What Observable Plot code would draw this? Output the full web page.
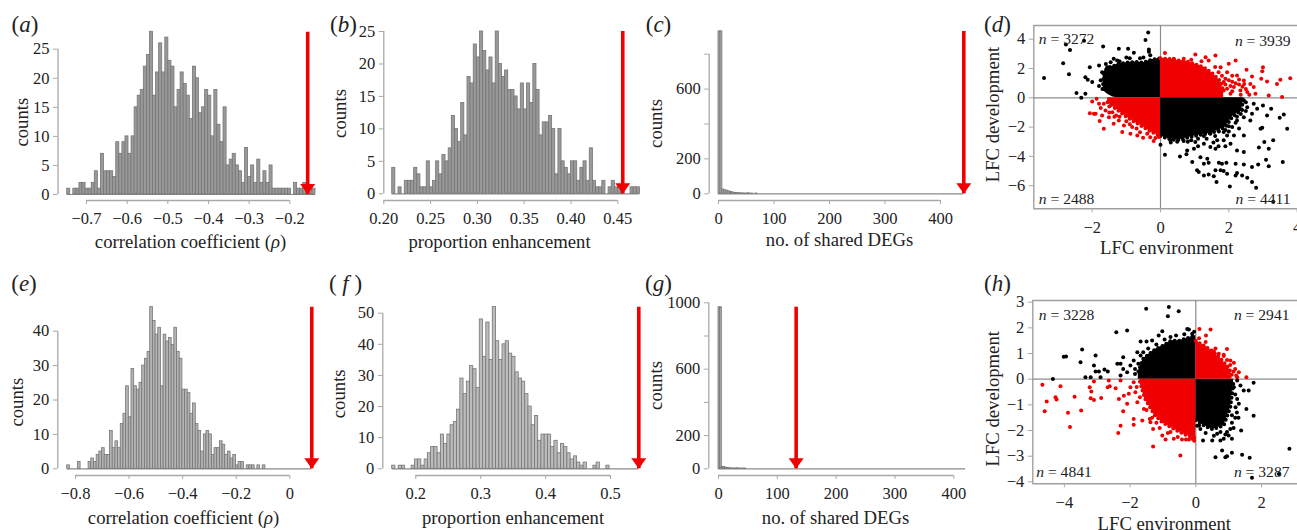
<!DOCTYPE html>
<html><head><meta charset="utf-8">
<script src="https://cdn.jsdelivr.net/npm/d3@7"></script>
<script src="https://cdn.jsdelivr.net/npm/@observablehq/plot@0.6"></script>
<style>
html,body{margin:0;padding:0;background:#fff;overflow:hidden}
#fig{position:relative;width:1297px;height:530px;overflow:hidden}
#fig>div{position:absolute}
</style></head><body><div id="fig"></div>
<script>
// ---------- histogram data (bin counts) ----------
const aCounts=[1,0,1,1,2,2,1,1,2,4,1,7,4,4,4,3,9,7,9,10,7,10,15,17,18,22,24,28,17,21,26,21,27,23,22,15,18,21,19,17,13,22,20,14,15,18,17,10,18,12,9,15,5,6,7,5,4,2,8,3,5,2,6,2,4,2,5,1,1,1,1,1,1,0,2,1,1,2,1,1,1];
const aStart=-0.7475, aBin=0.00754, aArrow=-0.156;
const aXTicks=[-0.7,-0.6,-0.5,-0.4,-0.3,-0.2], aYTicks=[0,5,10,15,20,25];

const bCounts=[4,0,1,0,2,2,2,4,3,1,1,5,1,2,5,3,6,5,7,12,10,8,14,9,18,17,23,21,25,22,19,21,17,25,20,18,19,16,16,15,13,17,13,17,14,20,16,9,11,11,12,10,3,10,5,4,3,5,5,2,4,5,2,7,2,1,1,2,0,1,2,1,1,1,0,0,1,1,1];
const bStart=0.209, bBin=0.00335, bArrow=0.4553;
const bXTicks=[0.2,0.25,0.3,0.35,0.4,0.45], bYTicks=[0,5,10,15,20,25];

const cCounts=[931,931,25,20,18,14,10,8,5,5,3,3,2,2,1,3,1,1,0,2];
const cStart=0, cBin=3.5, cArrow=442, cEnd=442;
const cXTicks=[0,100,200,300,400], cYTicks=[0,200,400,600,800], cYLabels=[0,200,600];

const eCounts=[1,0,0,0,2,0,0,0,2,3,2,4,5,6,4,4,11,6,8,6,13,16,24,15,29,24,23,25,30,32,34,47,43,39,41,24,39,37,38,36,41,34,32,23,23,22,16,19,13,11,5,10,11,10,4,6,6,8,7,4,5,3,4,1,2,2,0,1,1,1,0,1,0,1];
const eStart=-0.831, eBin=0.01, eArrow=0.082;
const eXTicks=[-0.8,-0.6,-0.4,-0.2,0], eYTicks=[0,10,20,30,40];

const fCounts=[1,0,1,1,0,0,1,3,3,1,3,5,7,7,5,11,8,11,14,15,19,29,24,28,33,32,26,48,36,47,35,52,41,35,40,41,37,36,31,29,28,24,20,14,17,9,11,11,11,7,9,5,8,7,5,3,4,2,1,2,0,0,1,2,0,0,1];
const fStart=0.1636, fBin=0.005, fArrow=0.5436;
const fXTicks=[0.2,0.3,0.4,0.5], fYTicks=[0,10,20,30,40,50];

const gCounts=[973,973,12,10,8,5,4,3,2,2,2,3,2,1,1,2,1];
const gStart=0, gBin=2.8, gArrow=132, gEnd=420;
const gXTicks=[0,100,200,300,400], gYTicks=[0,200,400,600,800,1000], gYLabels=[0,200,600,1000];

// ---------- scatter (d): dense-cloud envelopes and individually read points ----------
const dUL={x:[-1.68,-1.55,-1.4,-1.25,-1,-0.75,-0.5,-0.25,0],top:[1.7,2.05,2.15,2.3,2.4,2.45,2.4,2.6,2.7],bot:[0.5,0.25,0.05,0,0,0,0,0,0]};
const dUR={x:[0,0.25,0.5,0.75,1,1.25,1.5,1.75,1.85],top:[2.7,2.65,2.55,2.5,2.3,2.1,1.7,1.15,0.4],bot:[0,0,0,0,0,0,0,0,0]};
const dLR={x:[0,0.25,0.5,0.75,1,1.25,1.5,1.9,2.1,2.35,2.45],top:[0,0,0,0,0,0,0,0,0,0,0],bot:[-2.6,-2.8,-2.9,-2.75,-2.6,-2.5,-2.4,-2,-1.3,-0.9,0]};
const dLL={x:[-1.55,-1.25,-1,-0.75,-0.5,-0.25,0],top:[0,0,0,0,0,0,0],bot:[-0.3,-0.85,-1.3,-1.65,-2,-2.35,-2.6]};
const dBlack=[[-.36,4.45],[-.44,3.95],[-.34,3.3],[-.34,3.15],[-1.68,3.5],[-2.77,3.64],[-2.65,3.27],[-2.24,3.9],[-2.85,2.36],[-3.41,1.36],[-2.68,1.6],[-2.2,1.4],[-2.13,1.23],[-2.07,2.09],[-2,1.07],[-2.46,.32],[-2.2,.27],[-2.32,0],[-1.22,3.34],[-.95,3.34],[-.78,3.07],[-1.37,2.66],[-1.8,2.2],[-1.71,1.75],[-1.66,1.3],[-1.68,.95],[-1.56,2.09],[-1.46,2.43],[-1.27,2.55],[-1,2.75],[-.6,2.7],[-.3,2.9],[-1.75,1.2],[-1.8,.8],[-1.6,2.3],[-1.2,2.5],[-.9,2.7],[-.5,2.75],[-1.7,.6],
[0,-3.2],[.13,-3.89],[.57,-4],[.76,-3.86],[.93,-4.39],[.98,-3.48],[1.07,-4.95],[1.12,-5.07],[1.27,-5.3],[1.41,-5.23],[1.64,-5.75],[1.56,-5.36],[1.71,-4.43],[1.8,-4.5],[1.93,-4.43],[1.85,-5],[1.95,-5.18],[2.03,-6.05],[2.2,-4.5],[2.2,-5.3],[2.24,-5.14],[2.39,-5.3],[2.54,-5.45],[2.68,-5.75],[2.8,-6.14],[3.3,-7.1],[2.44,-4.55],[2.68,-4.73],[2.86,-4.55],[3.17,-4.68],[3.09,-4.23],[3.58,-4.39],[3.3,-2.9],[3.17,-3.48],[2.88,-3.4],[3.04,-3.02],[2.93,-2.11],[2.98,-2.05],[3.71,-2.11],[3.49,-1.36],[3.61,-1.14],[3.24,-.75],[3,-.52],[2.83,-.75],[2.68,-1.09],[2.44,-2.57],[2.44,-3.7],[2.15,-2.57],[1.95,-2.57],[1.85,-2.9],[2.05,-3.14],[2.24,-3.59],[1.61,-3.48],[1.46,-3.36],[1.27,-3.14],[1.17,-4.05],[1.37,-4.16],[1.27,-4.5],[1.41,-4.43],[1.61,-4.95],[1.76,-4.95],[.78,-3.59],[1.02,-3.02],[1.46,-2.45],[1.66,-2.9],[1.85,-2.34],[2.24,-1.55],[2.44,-1.32],[2.54,-.64],[2.63,-1.55],[2.73,-.41],[3.12,-1.2],[.29,-2.9],[.68,-2.95],[.49,-3],[.9,-2.9],[1.27,-2.6],[1.71,-2.3],[2,-1.95],[2.24,-1.3],[2.39,-.84],[2.44,-.18],[1.1,-3.3],[1.55,-3.05],[2,-2.3],[2.3,-2.1],[2.5,-.3],[2.5,-.9],[2.35,-1.1],[2.2,-1.7],[2.1,-2],[1.9,-2.2],[1.6,-2.6],[1.35,-2.8],[1.1,-2.8],[.8,-3],[.3,-3.05],[1.9,-3.3],[1.7,-3.3]];
const dRed=[[.13,3.05],[1.61,2.89],[1.02,2.95],[1.32,2.77],[2.2,2.55],[2,2.32],[2.52,1.91],[3,2.09],[2.98,1.82],[2.68,1.45],[2.95,1.3],[3.12,1.11],[3.41,.95],[3.51,1.23],[3.8,1.34],[3.56,.05],[3.17,.16],[2.63,.95],[2.44,1.18],[2.24,1.52],[1.95,1.75],[1.85,1.07],[2.15,.73],[2.34,.5],[2.54,.39],[2.73,.73],[2.78,.27],[2.05,.27],[1.95,.61],[1.76,2.09],[1.41,2.55],[.68,2.66],[.39,2.66],[1.85,.5],[1.9,1.3],[2.1,1.1],[1.8,1.5],[1.9,.9],[2,1.2],[2.05,.8],[2.1,.45],[2.2,1],[2.3,.9],[2.35,.2],[2.4,.75],[2.5,.6],[2.6,.2],[2.1,1.5],[1.7,1.75],[1.6,2.1],[1.2,2.5],[.9,2.6],[2.45,.95],[2.3,1.25],
[-2,-.25],[-1.87,-.07],[-1.8,-.41],[-2.07,-1.05],[-1.95,-1.09],[-1.9,-1.09],[-1.71,-1.2],[-1.78,-1.59],[-1.66,-2.11],[-1.66,-.41],[-1.61,-.86],[-1.51,-1.32],[-1.41,-.98],[-1.22,-1.55],[-1.37,-1.77],[-1.07,-1.89],[-.83,-2],[-1.12,-2.34],[-.68,-2.57],[-.51,-2.73],[-.2,-2.95],[-.88,-2.45],[-.39,-2.45],[-.05,-2.68],[-.1,-2.34],[-1.5,-.6],[-1.3,-1.2],[-1.75,-.7],[-1.5,-1],[-1.35,-1.3],[-1.2,-1.3],[-1,-1.6],[-.9,-1.8],[-.7,-2.1],[-.6,-2.35],[-.3,-2.7],[-.15,-2.75]];
const dN=["*n* = 3272","*n* = 3939","*n* = 2488","*n* = 4411"];
const dXTicks=[-2,0,2,4], dYTicks=[-6,-4,-2,0,2,4];

// ---------- scatter (h) ----------
const hUL={x:[-1.75,-1.6,-1.4,-1.25,-1,-.75,-.5,-.25,0],top:[.3,.8,1,1.15,1.3,1.5,1.5,1.6,1.7],bot:[0,0,0,0,0,0,0,0,0]};
const hUR={x:[0,.25,.5,.75,1,1.1],top:[1.5,1.3,1.1,.8,.45,.15],bot:[0,0,0,0,0,0]};
const hLR={x:[0,.25,.5,.85,1.05,1.15],top:[0,0,0,0,0,0],bot:[-1.6,-1.8,-1.95,-1.8,-1.1,-.1]};
const hLL={x:[-1.7,-1.55,-1.25,-1,-.65,-.35,0],top:[0,0,0,0,0,0,0],bot:[-.1,-.75,-1.4,-1.7,-1.95,-2.15,-2.3]};
const hBlack=[[-1.51,2.74],[-.82,2.81],[-.85,2.45],[-.52,2.65],[-2.09,1.9],[-2.42,1.83],[-3.46,1.16],[-3.05,.92],[-4.02,.87],[-3.95,.88],[-3.51,.66],[-3.1,.53],[-4.35,.01],[-3.36,.08],[-3.2,.08],[-3.05,.3],[-2.95,.3],[-2.9,.08],[-2.78,.38],[-2.68,.3],[-2.39,.6],[-2.29,.6],[-2.21,.86],[-2.21,.4],[-2.29,.14],[-2.09,.27],[-1.99,.53],[-1.89,.73],[-1.68,1.47],[-1.5,1.47],[-1.33,1.51],[-1.02,1.87],[-1.13,1.7],[-.77,1.64],[-.26,1.96],[-.21,1.94],[-.11,1.77],[-1.78,1.05],[-1.68,.92],[-1.85,.4],[-1.85,.2],[-1.75,.6],[-1.6,1.05],[-1.45,1.2],[-1.2,1.35],[-.95,1.55],[-.6,1.7],[-.35,1.75],[-.05,1.85],
[2.85,-2.71],[.6,-3.04],[.9,-3.04],[.95,-3],[.8,-2.78],[1.1,-2.87],[1.41,-2.94],[1.64,-3.06],[1.71,-3.84],[2.53,-3.69],[1.76,-.14],[1.76,-1.42],[1.54,-1.16],[1.38,-2],[1.1,-2.32],[.85,-2.32],[.75,-2.39],[.5,-2.39],[.22,-2.39],[.04,-1.81],[.14,-1.94],[1.26,-.77],[1.31,-.96],[1.21,-1.09],[1.36,-.25],[1.46,-.44],[1.61,-.44],[1.16,-.31],[1.26,-.05],[1.05,-1.94],[.95,-2.06],[1,-2.19],[.75,-2.06],[.65,-2.13],[1.2,-1.5],[1.1,-1.7],[1.2,-.6],[1.25,-1.3],[1.1,-1.4],[1.15,-1.9],[.9,-2.15],[.55,-2.2],[.3,-2.1],[.1,-1.8],[1.3,-1.5]];
const hRed=[[.11,1.96],[.45,1.94],[.31,1.7],[.95,1.18],[.85,.9],[1.16,.64],[1.31,.27],[1.26,.08],[1.54,.08],[1.05,.73],[.24,1.25],[.55,1.08],[.7,.99],[1.23,.14],[.1,1.6],[.3,1.45],[.6,1.2],[.85,.95],[1.05,.55],[1.15,.3],[.95,.75],[1.2,.4],
[-4.67,-.22],[-4.6,-1.25],[-4.54,-.87],[-4.24,-.79],[-4.27,-.7],[-4.12,-.27],[-3.89,-1.31],[-3.83,-1.86],[-3.69,-.68],[-3.49,-1.22],[-3.23,-.31],[-3.18,-.48],[-3.2,-.74],[-3.1,-.81],[-2.88,-.73],[-3.1,-.09],[-2.65,-.05],[-2.68,-.31],[-2.62,-.27],[-2.44,-.35],[-2.29,-.05],[-2.34,-.77],[-2.19,-.64],[-2.04,-.57],[-2.09,-.96],[-2.21,-1.25],[-2.29,-1.81],[-2.36,-2.1],[-1.89,-1.55],[-1.89,-1.77],[-1.63,-1.61],[-1.58,-1.16],[-1.89,-.12],[-1.99,-.31],[-1.84,-.51],[-1.78,-.9],[-1.3,-1.94],[-1.33,-1.5],[-1.02,-2.19],[-.92,-2.35],[-1.3,-2.62],[-.47,-2.97],[-.67,-2.32],[-.42,-2.35],[-.21,-2.35],[-.11,-2.32],[-1.38,-1.68],[-.77,-2.06],[-1.8,-.3],[-1.7,-.7],[-1.5,-1.2],[-1.4,-1.55],[-1.2,-1.7],[-1.1,-1.9],[-.85,-2.1],[-.55,-2.25],[-.3,-2.35],[-.05,-2.4]];
const hN=["*n* = 3228","*n* = 2941","*n* = 4841","*n* = 3287"];
const hXTicks=[-4,-2,0,2], hYTicks=[-4,-3,-2,-1,0,1,2,3];

// ---------- shared styling / helpers ----------
const SERIF="Liberation Serif", INK="#222", AXIS="#a8a8a8", RED="#f00000";
const minus=v=>String(v).replace("-","\u2212");
const lerp=(c,p)=>c[0]+(p-c[1])*(c[2]-c[0])/(c[3]-c[1]);
const fig=document.getElementById("fig");

function labeller(box){
  return (t,px,py,o={})=>Plot.text([t],{text:d=>d,frameAnchor:"top-left",lineAnchor:"middle",dx:px-box.ox-box.ml,dy:py-box.oy-box.mt,
    fontFamily:SERIF,fontSize:o.size??18.7,fill:INK,textAnchor:o.anchor??"middle",rotate:o.rotate??0});
}
function place(svg,ox,oy){
  svg.querySelectorAll("text").forEach(el=>{
    if(el.textContent.includes("*"))
      el.innerHTML=el.textContent.replace(/\*(.*?)\*/g,'<tspan font-style="italic">$1</tspan>');
  });
  const d=document.createElement("div");d.style.left=ox+"px";d.style.top=oy+"px";d.appendChild(svg);fig.appendChild(d);
}
function hist(p){
  const box={ox:p.ox,oy:p.oy,ml:p.ax-p.ox,mt:0};
  const L=labeller(box), w=p.w, h=265;
  const xd=[lerp(p.xc,p.ax),lerp(p.xc,p.ox+w)], yd=[lerp(p.yc,p.ay),lerp(p.yc,p.oy)];
  const rows=p.counts.map((c,i)=>({x1:p.start+i*p.bin,x2:p.start+(i+1)*p.bin,c}));
  const labels=p.yLabels;
  const svg=Plot.plot({width:w,height:h,marginLeft:box.ml,marginRight:0,marginTop:0,marginBottom:p.oy+h-p.ay,
    style:{background:"transparent",maxWidth:"none",overflow:"visible"},
    x:{domain:xd},y:{domain:yd},
    marks:[
      Plot.ruleX([xd[0]],{y1:p.yTicks[0],y2:p.yTicks[p.yTicks.length-1],stroke:AXIS,strokeWidth:1.3}),
      Plot.ruleY([yd[0]],{x1:p.xTicks[0],x2:p.xTicks[p.xTicks.length-1],stroke:AXIS,strokeWidth:1.3}),
      Plot.axisX({ticks:p.xTicks,tickFormat:p.xFmt??minus,tickSize:4,tickPadding:8,stroke:AXIS,fill:INK,fontSize:16.5,fontFamily:SERIF,label:null}),
      Plot.axisY({ticks:p.yTicks,tickFormat:d=>labels&&!labels.includes(d)?"":String(d),tickSize:4.5,tickPadding:4,stroke:AXIS,fill:INK,fontSize:16.5,fontFamily:SERIF,label:null}),
      Plot.ruleY([0],{x1:p.start,x2:p.end??(p.start+p.counts.length*p.bin),stroke:"#8a8a8a",strokeWidth:1.2}),
      Plot.rect(rows,{x1:"x1",x2:"x2",y1:0,y2:"c",fill:p.fill,stroke:"#767676",strokeWidth:0.8}),
      Plot.ruleX([p.arrow],{y1:0,y2:lerp(p.yc,p.arrowTop),stroke:RED,strokeWidth:3.6}),
      Plot.dot([p.arrow],{x:d=>d,y:()=>0,r:7.5,fill:RED,stroke:"none",
        symbol:{draw(ctx,size){const r=Math.sqrt(size/Math.PI);ctx.moveTo(-r,-r*1.4);ctx.lineTo(r,-r*1.4);ctx.lineTo(0,0);ctx.closePath();}}}),
      L(p.tag[0],p.tag[1],p.tag[2],{size:23}),
      L("counts",p.cnt[0],p.cnt[1],{rotate:-90}),
      L(p.xlab[0],p.xlab[1],p.xlab[2])
    ]});
  place(svg,p.ox,p.oy);
}
// dense part of a quadrant: filled envelope, with a dotted outer edge only
const cloud=(q,fill,edge)=>[
  Plot.areaY(q.x,{x:d=>d,y1:(d,i)=>q.bot[i],y2:(d,i)=>q.top[i],fill}),
  Plot.line(q.x,{x:d=>d,y:(d,i)=>q[edge][i],stroke:fill,strokeWidth:4,strokeLinecap:"round",strokeDasharray:"0 4.6"})
];
function scatter(p){
  const box={ox:p.ox,oy:p.oy,ml:p.fl-p.ox,mt:p.ft-p.oy};
  const L=labeller(box), w=1297-p.ox, h=265;
  const xd=[lerp(p.xc,p.fl),lerp(p.xc,1297)], yd=[lerp(p.yc,p.fb),lerp(p.yc,p.ft)];
  const border={stroke:"#a0a0a0",strokeWidth:1.4};
  const guide={stroke:"#8c8c8c",strokeWidth:1.2};
  const svg=Plot.plot({width:w,height:h,marginLeft:box.ml,marginRight:0,marginTop:box.mt,marginBottom:p.oy+h-p.fb,
    style:{background:"transparent",maxWidth:"none",overflow:"visible"},
    x:{domain:xd},y:{domain:yd},
    marks:[
      Plot.ruleX([xd[0]],border),
      Plot.ruleY([yd[0]],border),
      Plot.ruleY([yd[1]],border),
      Plot.ruleX([0],guide),Plot.ruleY([0],guide),
      Plot.axisX({ticks:p.xTicks,tickFormat:minus,tickSize:4,tickPadding:8,stroke:AXIS,fill:INK,fontSize:16.5,fontFamily:SERIF,label:null}),
      Plot.axisY({ticks:p.yTicks,tickFormat:minus,tickSize:4.5,tickPadding:4,stroke:AXIS,fill:INK,fontSize:16.5,fontFamily:SERIF,label:null}),
      cloud(p.UL,"#000","top"),cloud(p.LR,"#000","bot"),cloud(p.UR,RED,"top"),cloud(p.LL,RED,"bot"),
      Plot.dot(p.red,{x:"0",y:"1",r:2,fill:RED,stroke:"none"}),
      Plot.dot(p.black,{x:"0",y:"1",r:2,fill:"#000",stroke:"none"}),
      ...p.n.map((t,i)=>L(t,p.nPos[i][0],p.nPos[i][1],{size:15.6,anchor:i%2?"end":"start"})),
      L(p.tag[0],p.tag[1],p.tag[2],{size:23}),
      L("LFC development",p.ylab[0],p.ylab[1],{rotate:-90}),
      L("LFC environment",p.xlab[0],p.xlab[1])
    ]});
  place(svg,p.ox,p.oy);
}

hist({ox:0,oy:0,w:325,ax:57.5,ay:200,xc:[-0.7,86,-0.2,289.3],yc:[0,194,25,48.7],counts:aCounts,start:aStart,bin:aBin,fill:"#999",arrow:aArrow,arrowTop:31.7,
  xTicks:aXTicks,yTicks:aYTicks,tag:["(*a*)",24.5,24],cnt:[21.7,121.7],xlab:["correlation coefficient (*ρ*)",190,241.7]});
hist({ox:325,oy:0,w:315,ax:383.3,ay:200,xc:[0.2,383.3,0.45,617.3],yc:[0,193.3,25,31],counts:bCounts,start:bStart,bin:bBin,fill:"#999",arrow:bArrow,arrowTop:31,
  xTicks:bXTicks,yTicks:bYTicks,xFmt:d=>d.toFixed(2),tag:["(*b*)",343,24],cnt:[340,113],xlab:["proportion enhancement",499,242]});
hist({ox:640,oy:0,w:335,ax:708.7,ay:200,xc:[0,718,400,940],yc:[0,193.3,800,53.7],counts:cCounts,start:cStart,bin:cBin,end:cEnd,fill:"#aaa",arrow:cArrow,arrowTop:31,
  xTicks:cXTicks,yTicks:cYTicks,yLabels:cYLabels,tag:["(*c*)",658,24],cnt:[656,123],xlab:["no. of shared DEGs",839,239.5]});
hist({ox:0,oy:265,w:325,ax:57.3,ay:475,xc:[-0.8,75,0,289.3],yc:[0,468.3,40,330.7],counts:eCounts,start:eStart,bin:eBin,end:eArrow,fill:"#b4b4b4",arrow:eArrow,arrowTop:306.7,
  xTicks:eXTicks,yTicks:eYTicks,tag:["(*e*)",23.5,283],cnt:[17,401.7],xlab:["correlation coefficient (*ρ*)",183,517.7]});
hist({ox:325,oy:265,w:315,ax:382.3,ay:475,xc:[0.2,415.3,0.5,610],yc:[0,468.3,50,312.7],counts:fCounts,start:fStart,bin:fBin,end:fArrow,fill:"#bcbcbc",arrow:fArrow,arrowTop:306.7,
  xTicks:fXTicks,yTicks:fYTicks,tag:["( *f* )",345,283],cnt:[338.3,393.3],xlab:["proportion enhancement",512.5,517.7]});
hist({ox:640,oy:265,w:335,ax:708.3,ay:475,xc:[0,718,400,953.3],yc:[0,468.3,1000,302.3],counts:gCounts,start:gStart,bin:gBin,end:gEnd,fill:"#aaa",arrow:gArrow,arrowTop:306.7,
  xTicks:gXTicks,yTicks:gYTicks,yLabels:gYLabels,tag:["(*g*)",658,283],cnt:[656,385],xlab:["no. of shared DEGs",835,518]});
scatter({ox:975,oy:0,fl:1033.3,ft:25,fb:208.3,xc:[0,1160,2,1228.3],yc:[0,97.3,4,38.7],UL:dUL,UR:dUR,LR:dLR,LL:dLL,red:dRed,black:dBlack,n:dN,
  nPos:[[1038.3,38],[1290,40],[1038.3,198],[1290,198]],xTicks:dXTicks,yTicks:dYTicks,tag:["(*d*)",997,24],ylab:[992.7,114],xlab:[1166.3,248]});
scatter({ox:975,oy:265,fl:1032.3,ft:300,fb:483.3,xc:[0,1195.3,2,1261],yc:[0,378.7,3,301.7],UL:hUL,UR:hUR,LR:hLR,LL:hLL,red:hRed,black:hBlack,n:hN,
  nPos:[[1038.3,314.3],[1289,314.3],[1035.7,471],[1289,471]],xTicks:hXTicks,yTicks:hYTicks,tag:["(*h*)",997,283],ylab:[992.7,398.3],xlab:[1163.8,524]});
</script></body></html>
